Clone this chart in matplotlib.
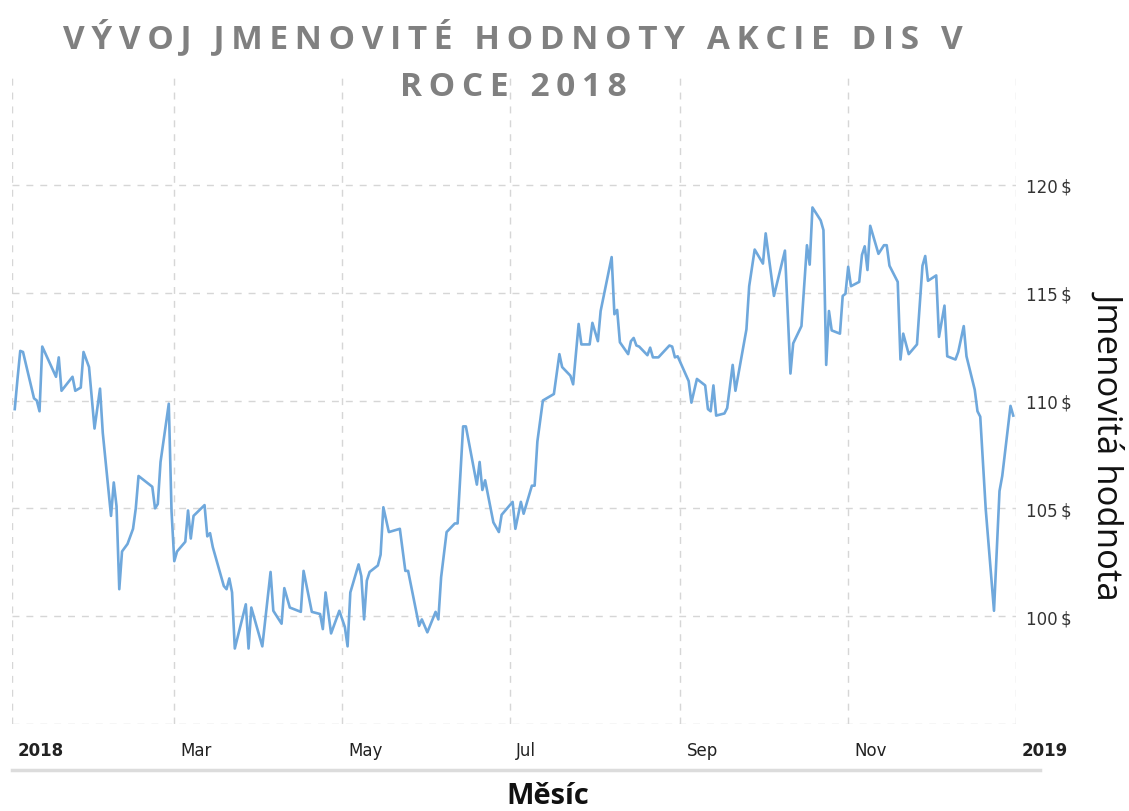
import pandas as pd
import matplotlib
matplotlib.use("Agg")
import matplotlib.pyplot as plt
import matplotlib.dates as mdates
from matplotlib.transforms import ScaledTranslation

# Data (DIS closing price, 2018)
days = [
    "01-02", "01-03", "01-04", "01-05", "01-09", "01-10", "01-11", "01-12", "01-17", "01-18",
    "01-19", "01-23", "01-24", "01-26", "01-27", "01-29", "01-31", "02-02", "02-03", "02-06",
    "02-07", "02-08", "02-09", "02-10", "02-12", "02-14", "02-15", "02-16", "02-21", "02-22",
    "02-23", "02-24", "02-27", "02-28", "03-01", "03-02", "03-05", "03-06", "03-07", "03-08",
    "03-12", "03-13", "03-14", "03-15", "03-19", "03-20", "03-21", "03-22", "03-23", "03-27",
    "03-28", "03-29", "04-02", "04-05", "04-06", "04-09", "04-10", "04-12", "04-16", "04-17",
    "04-20", "04-23", "04-24", "04-25", "04-27", "04-30", "05-02", "05-03", "05-04", "05-07",
    "05-08", "05-09", "05-10", "05-11", "05-14", "05-15", "05-16", "05-18", "05-22", "05-24",
    "05-25", "05-29", "05-30", "06-01", "06-04", "06-05", "06-06", "06-08", "06-11", "06-12",
    "06-14", "06-15", "06-19", "06-20", "06-21", "06-22", "06-25", "06-27", "06-28", "07-02",
    "07-03", "07-05", "07-06", "07-09", "07-10", "07-11", "07-13", "07-17", "07-19", "07-20",
    "07-23", "07-24", "07-26", "07-27", "07-30", "07-31", "08-02", "08-03", "08-07", "08-08",
    "08-09", "08-10", "08-13", "08-14", "08-15", "08-16", "08-17", "08-20", "08-21", "08-22",
    "08-24", "08-28", "08-29", "08-30", "08-31", "09-04", "09-05", "09-07", "09-10", "09-11",
    "09-12", "09-13", "09-14", "09-17", "09-18", "09-20", "09-21", "09-25", "09-26", "09-28",
    "10-01", "10-02", "10-05", "10-09", "10-11", "10-12", "10-15", "10-17", "10-18", "10-19",
    "10-22", "10-23", "10-24", "10-25", "10-26", "10-29", "10-30", "10-31", "11-01", "11-02",
    "11-05", "11-06", "11-07", "11-08", "11-09", "11-12", "11-14", "11-15", "11-16", "11-19",
    "11-20", "11-21", "11-23", "11-26", "11-28", "11-29", "11-30", "12-03", "12-04", "12-06",
    "12-07", "12-10", "12-11", "12-13", "12-14", "12-17", "12-18", "12-19", "12-21", "12-24",
    "12-26", "12-27", "12-30", "12-31",
]
prices = [
    109.6, 111.0, 112.3, 112.25, 110.1, 110.0, 109.5, 112.5, 111.1, 112.0,
    110.45, 111.1, 110.45, 110.6, 112.25, 111.55, 108.7, 110.55, 108.5, 104.65,
    106.2, 105.1, 101.25, 103.0, 103.35, 104.05, 105.0, 106.5, 106.0, 105.0,
    105.2, 107.15, 109.85, 104.85, 102.55, 103.0, 103.45, 104.9, 103.6, 104.65,
    105.15, 103.7, 103.85, 103.2, 101.4, 101.25, 101.75, 101.1, 98.5, 100.55,
    98.5, 100.4, 98.6, 102.05, 100.25, 99.65, 101.3, 100.4, 100.2, 102.1,
    100.2, 100.1, 99.4, 101.1, 99.2, 100.25, 99.5, 98.6, 101.1, 102.4,
    101.85, 99.85, 101.65, 102.05, 102.35, 102.85, 105.05, 103.9, 104.05, 102.1,
    102.1, 99.55, 99.85, 99.25, 100.2, 99.85, 101.8, 103.9, 104.3, 104.3,
    108.8, 108.8, 106.1, 107.15, 105.85, 106.3, 104.35, 103.9, 104.7, 105.3,
    104.05, 105.3, 104.75, 106.05, 106.05, 108.1, 110.0, 110.3, 112.15, 111.55,
    111.15, 110.75, 113.55, 112.6, 112.6, 113.6, 112.75, 114.15, 116.65, 114.0,
    114.2, 112.7, 112.15, 112.75, 112.9, 112.55, 112.5, 112.1, 112.45, 112.0,
    112.0, 112.55, 112.5, 112.0, 112.05, 110.9, 109.9, 111.0, 110.7, 109.6,
    109.5, 110.7, 109.3, 109.4, 109.65, 111.65, 110.45, 113.3, 115.3, 117.0,
    116.35, 117.75, 114.85, 116.95, 111.25, 112.65, 113.45, 117.2, 116.3, 118.95,
    118.35, 117.9, 111.65, 114.15, 113.25, 113.1, 114.85, 114.95, 116.2, 115.3,
    115.5, 116.75, 117.15, 116.05, 118.1, 116.8, 117.2, 117.2, 116.25, 115.5,
    111.9, 113.1, 112.15, 112.6, 116.25, 116.7, 115.55, 115.8, 112.95, 114.4,
    112.05, 111.9, 112.25, 113.45, 112.05, 110.5, 109.5, 109.25, 104.95, 100.25,
    105.8, 106.5, 109.75, 109.3,
]

month_labels = ["2018", "Mar", "May", "Jul", "Sep", "Nov", "2019"]
y_ticks = [95, 100, 105, 110, 115, 120]

dates = pd.to_datetime(["2018-" + d for d in days])

fig = plt.figure(figsize=(11.29, 8.12), dpi=100)
ax = fig.add_axes([12 / 1129, 1 - 725 / 812, (1016 - 12) / 1129, (725 - 73) / 812])

ax.plot(dates, prices, color="#6fa8dc", linewidth=1.9)

ax.set_xlim(pd.Timestamp("2018-01-01"), pd.Timestamp("2019-01-01"))
ax.set_ylim(95, 95 + 30 * (725 - 73) / (725 - 78))

# x axis: every second month
ax.xaxis.set_major_locator(mdates.MonthLocator(bymonth=[1, 3, 5, 7, 9, 11]))
ax.set_xticks(ax.get_xticks())
ax.set_xticklabels(month_labels)
ax.tick_params(axis="x", length=0, pad=12, labelsize=12, labelcolor="#222222")

# y axis on the right
ax.yaxis.tick_right()
ax.set_yticks(y_ticks)
ax.set_yticklabels(["" if v == 95 else f"{v}\u2009$" for v in y_ticks])
ax.tick_params(axis="y", length=0, pad=7, labelsize=12, labelcolor="#333333")

offset = ScaledTranslation(6 / 100, 0, fig.dpi_scale_trans)
labels = ax.get_xticklabels()
for i, lab in enumerate(labels):
    lab.set_horizontalalignment("left")
    lab.set_transform(lab.get_transform() + offset)
    if i in (0, len(labels) - 1):
        lab.set_fontweight("bold")

ax.grid(True, color="#d6d6d6", linestyle=(0, (5, 5)), linewidth=1)
ax.set_axisbelow(True)
for s in ax.spines.values():
    s.set_visible(False)

# axis line under the month labels
fig.add_artist(plt.Line2D([12 / 1129, 1040 / 1129], [1 - 771 / 812] * 2,
                          color="#dcdcdc", linewidth=2.5))

title_fam = ["Open Sans", "DejaVu Sans"]
line1 = "\u2009".join("VÝVOJ JMENOVITÉ HODNOTY AKCIE DIS V")
line2 = "\u2009".join("ROCE 2018")
fig.text(513 / 1129, 1 - 38 / 812, line1, ha="center", va="center",
         fontsize=24, fontweight="bold", color="#808080", family=title_fam)
fig.text(513 / 1129, 1 - 88 / 812, line2, ha="center", va="center",
         fontsize=24, fontweight="bold", color="#808080", family=title_fam)

fig.text(548 / 1129, 1 - 797 / 812, "Měsíc", ha="center", va="center",
         fontsize=21, fontweight="bold", color="#111111", family="Open Sans")
fig.text(1109 / 1129, 1 - 445 / 812, "Jmenovitá hodnota", ha="center", va="center",
         rotation=270, fontsize=25, color="#111111", family="Open Sans")

fig.savefig("out.png", dpi=100, facecolor="white")
